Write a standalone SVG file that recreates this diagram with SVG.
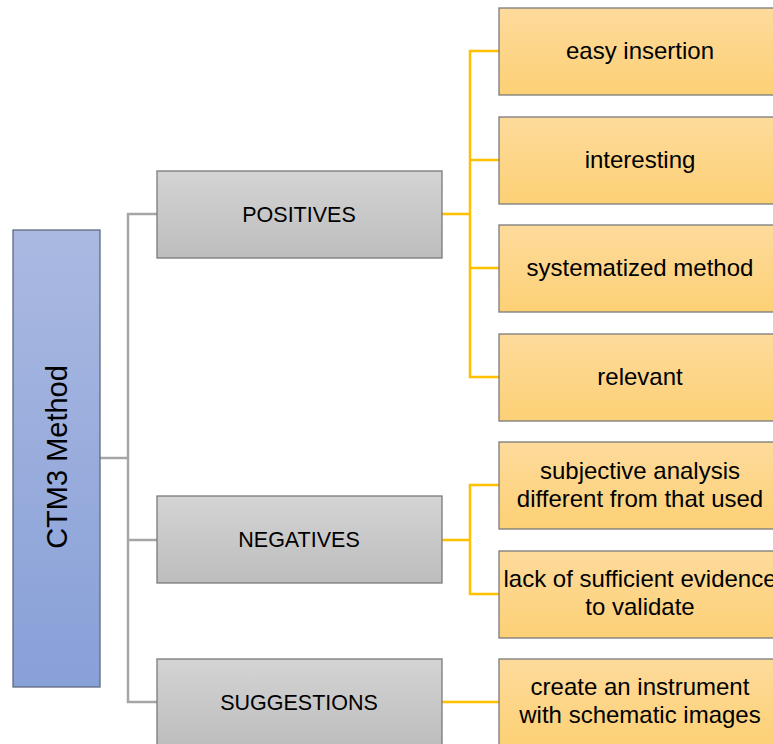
<svg xmlns="http://www.w3.org/2000/svg" width="773" height="744" viewBox="0 0 773 744">
<defs>
<linearGradient id="gBlue" x1="0" y1="0" x2="0" y2="1"><stop offset="0" stop-color="#aab9e1"/><stop offset="1" stop-color="#88a0d8"/></linearGradient>
<linearGradient id="gGray" x1="0" y1="0" x2="0" y2="1"><stop offset="0" stop-color="#d4d4d4"/><stop offset="1" stop-color="#bdbdbd"/></linearGradient>
<linearGradient id="gYel" x1="0" y1="0" x2="0" y2="1"><stop offset="0" stop-color="#fedb9c"/><stop offset="1" stop-color="#fcd075"/></linearGradient>
</defs>
<style>
.t{font-family:"Liberation Sans",Arial,sans-serif;fill:#000;text-anchor:middle}
.g{fill:url(#gGray);stroke:#7a7a7a;stroke-width:1.3}
.y{fill:url(#gYel);stroke:#7a7a7a;stroke-width:1.3}
.cg{fill:none;stroke:#a6a6a6;stroke-width:2.5}
.cy{fill:none;stroke:#ffc000;stroke-width:2.5}
.sg{font-size:21.5px}
.sy{font-size:24px}
</style>
<rect width="773" height="744" fill="#fff"/>
<g id="connectors">
<path class="cg" d="M100 458H128M157 214H128V702H157M128 540H157"/>
<path class="cy" d="M442 214H470M499 51H470V377H499M470 160H499M470 268H499"/>
<path class="cy" d="M442 540H470M499 485H470V594H499"/>
<path class="cy" d="M442 702H499"/>
</g>
<g id="root">
<rect x="13" y="230" width="87" height="457" fill="url(#gBlue)" stroke="#5f6a80" stroke-width="1.3"/>
<text class="t" font-size="29" transform="translate(57,457) rotate(-90)" y="10">CTM3 Method</text>
</g>
<g id="positives"><rect class="g" x="157" y="171" width="285" height="87"/><text class="t sg" x="299" y="222">POSITIVES</text></g>
<g id="negatives"><rect class="g" x="157" y="496" width="285" height="87"/><text class="t sg" x="299" y="547">NEGATIVES</text></g>
<g id="suggestions"><rect class="g" x="157" y="659" width="285" height="87"/><text class="t sg" x="299" y="710">SUGGESTIONS</text></g>
<g id="easy"><rect class="y" x="499" y="8" width="283" height="87"/><text class="t sy" x="640" y="59">easy insertion</text></g>
<g id="interesting"><rect class="y" x="499" y="117" width="283" height="87"/><text class="t sy" x="640" y="168">interesting</text></g>
<g id="systematized"><rect class="y" x="499" y="225" width="283" height="87"/><text class="t sy" x="640" y="276">systematized method</text></g>
<g id="relevant"><rect class="y" x="499" y="334" width="283" height="87"/><text class="t sy" x="640" y="385">relevant</text></g>
<g id="subjective"><rect class="y" x="499" y="442" width="283" height="87"/><text class="t sy" x="640" y="479">subjective analysis</text><text class="t sy" x="640" y="507">different from that used</text></g>
<g id="lack"><rect class="y" x="499" y="551" width="283" height="87"/><text class="t sy" x="640" y="587">lack of sufficient evidence</text><text class="t sy" x="640" y="615">to validate</text></g>
<g id="create"><rect class="y" x="499" y="659" width="283" height="87"/><text class="t sy" x="640" y="695">create an instrument</text><text class="t sy" x="640" y="723">with schematic images</text></g>
</svg>
